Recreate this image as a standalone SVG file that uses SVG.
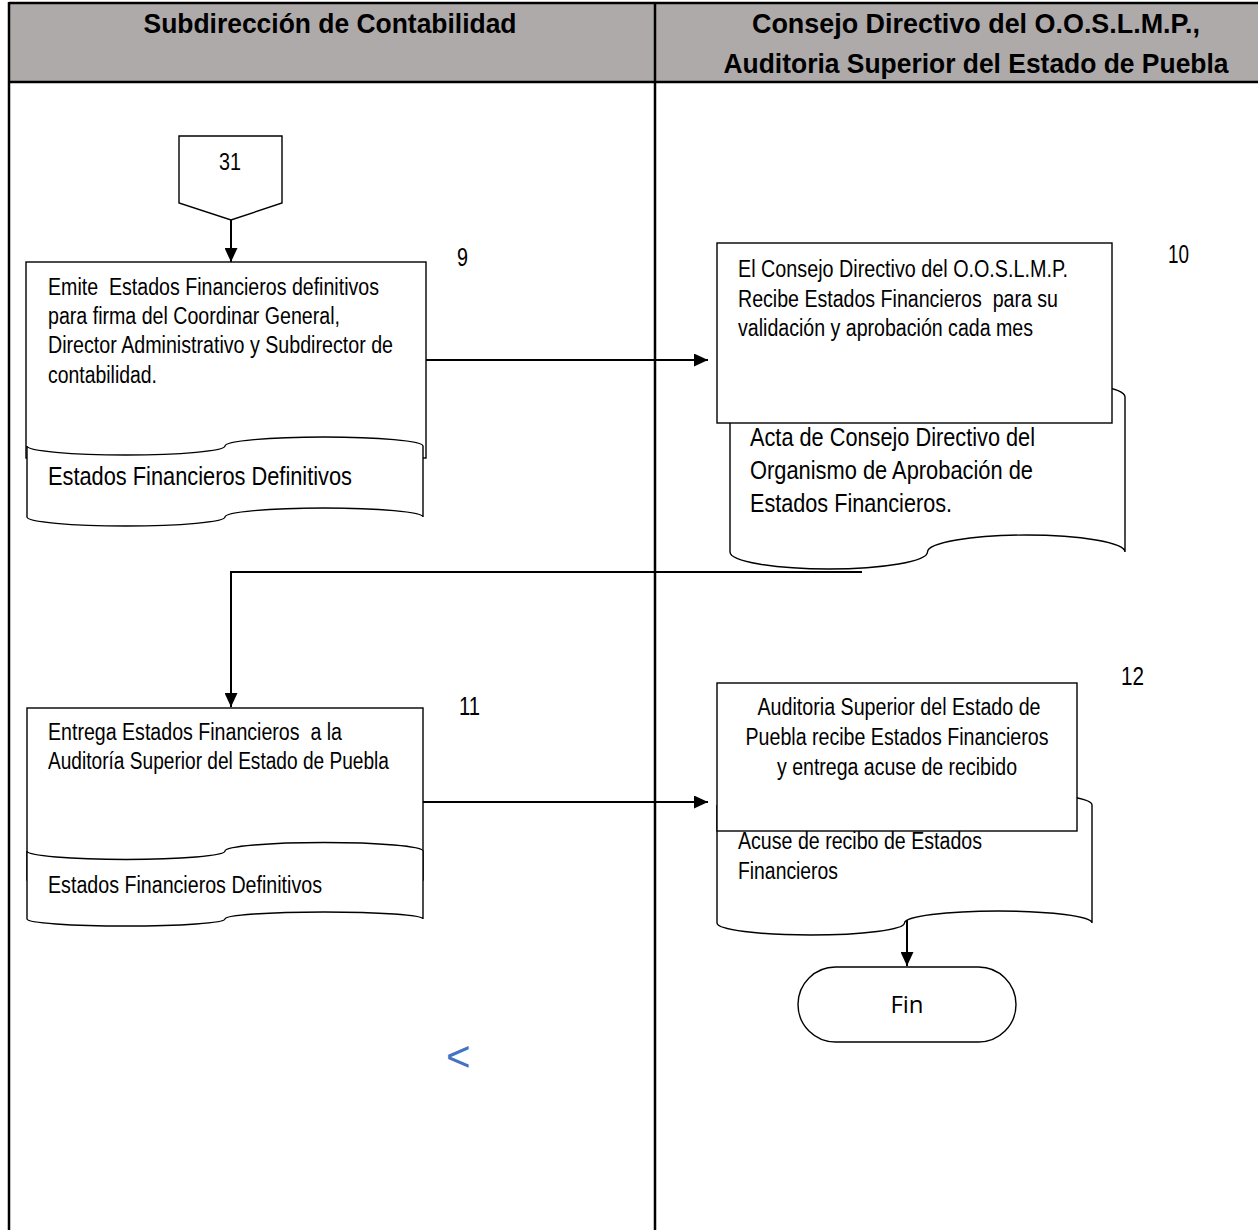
<svg xmlns="http://www.w3.org/2000/svg" width="1258" height="1230" viewBox="0 0 1258 1230">
<style>
.frame{stroke:#000;stroke-width:2.5;fill:none}
.shape{fill:#fff;stroke:#000;stroke-width:1.4}
.conn{stroke:#000;stroke-width:2;fill:none}
.t{font-family:"Liberation Sans Narrow","Liberation Sans",Arial,sans-serif;font-size:23px;fill:#000;white-space:pre}
.tl{font-size:25px}
.h{font-family:"Liberation Sans Narrow","Liberation Sans",Arial,sans-serif;font-weight:bold;font-size:28px;fill:#000}
.fin{font-family:"Open Sans","Noto Sans","Liberation Sans",sans-serif;font-size:24px;fill:#000}
</style>
<defs>
<marker id="arr" markerUnits="userSpaceOnUse" viewBox="0 0 14 13" refX="14" refY="6.5" markerWidth="14" markerHeight="13" orient="auto">
<path d="M0,0 L14,6.5 L0,13 Z" fill="#000"/>
</marker>
</defs>
<rect width="1258" height="1230" fill="#fff"/>
<g id="frame">
<rect x="9" y="3" width="1252" height="79" fill="#AEAAAA"/>
<line class="frame" x1="9" y1="3" x2="1258" y2="3"/>
<line class="frame" x1="9" y1="82" x2="1258" y2="82"/>
<line class="frame" x1="9" y1="2" x2="9" y2="1230"/>
<line class="frame" x1="655" y1="2" x2="655" y2="1230"/>
<text class="h" x="330" y="33" text-anchor="middle" textLength="373" lengthAdjust="spacingAndGlyphs">Subdirección de Contabilidad</text>
<text class="h" x="976" y="33" text-anchor="middle" textLength="448" lengthAdjust="spacingAndGlyphs">Consejo Directivo del O.O.S.L.M.P.,</text>
<text class="h" x="976" y="73" text-anchor="middle" textLength="505" lengthAdjust="spacingAndGlyphs">Auditoria Superior del Estado de Puebla</text>
</g>
<g id="connectors">
<line class="conn" x1="231" y1="220" x2="231" y2="262" marker-end="url(#arr)"/>
<line class="conn" x1="426" y1="360" x2="708" y2="360" marker-end="url(#arr)"/>
<polyline class="conn" points="862,572 231,572 231,707" marker-end="url(#arr)"/>
<line class="conn" x1="423" y1="802" x2="708" y2="802" marker-end="url(#arr)"/>
<line class="conn" x1="907" y1="920" x2="907" y2="966" marker-end="url(#arr)"/>
</g>
<g id="node31">
<polygon class="shape" points="179,136 282,136 282,203 231,220 179,203"/>
<text class="t" x="230" y="170" text-anchor="middle" textLength="22" lengthAdjust="spacingAndGlyphs">31</text>
</g>
<g id="node9">
<rect class="shape" x="26" y="262" width="400" height="196"/>
<text class="t" x="48" y="295" textLength="331" lengthAdjust="spacingAndGlyphs">Emite  Estados Financieros definitivos</text>
<text class="t" x="48" y="324" textLength="292" lengthAdjust="spacingAndGlyphs">para firma del Coordinar General,</text>
<text class="t" x="48" y="353" textLength="345" lengthAdjust="spacingAndGlyphs">Director Administrativo y Subdirector de</text>
<text class="t" x="48" y="383" textLength="109" lengthAdjust="spacingAndGlyphs">contabilidad.</text>
<path class="shape" d="M27,446 A99,9 0 0 0 225,446 A99,9 0 0 1 423,446 L423,517 A99,9 0 0 0 225,517 A99,9 0 0 1 27,517 Z"/>
<text class="t tl" x="48" y="485" textLength="304" lengthAdjust="spacingAndGlyphs">Estados Financieros Definitivos</text>
<text class="t tl" x="457" y="266" textLength="11" lengthAdjust="spacingAndGlyphs">9</text>
</g>
<g id="node10">
<path class="shape" d="M730,397 A98.75,17 0 0 0 927.5,397 A98.75,17 0 0 1 1125,397 L1125,552 A98.75,17 0 0 0 927.5,552 A98.75,17 0 0 1 730,552 Z"/>
<rect class="shape" x="717" y="243" width="395" height="180"/>
<text class="t" x="738" y="277" textLength="330" lengthAdjust="spacingAndGlyphs">El Consejo Directivo del O.O.S.L.M.P.</text>
<text class="t" x="738" y="307" textLength="320" lengthAdjust="spacingAndGlyphs">Recibe Estados Financieros  para su</text>
<text class="t" x="738" y="336" textLength="295" lengthAdjust="spacingAndGlyphs">validación y aprobación cada mes</text>
<text class="t tl" x="750" y="446" textLength="285" lengthAdjust="spacingAndGlyphs">Acta de Consejo Directivo del</text>
<text class="t tl" x="750" y="479" textLength="283" lengthAdjust="spacingAndGlyphs">Organismo de Aprobación de</text>
<text class="t tl" x="750" y="512" textLength="202" lengthAdjust="spacingAndGlyphs">Estados Financieros.</text>
<text class="t tl" x="1168" y="263" textLength="21" lengthAdjust="spacingAndGlyphs">10</text>
</g>
<g id="node11">
<rect class="shape" x="27" y="708" width="396" height="172"/>
<text class="t" x="48" y="740" textLength="294" lengthAdjust="spacingAndGlyphs">Entrega Estados Financieros  a la</text>
<text class="t" x="48" y="769" textLength="341" lengthAdjust="spacingAndGlyphs">Auditoría Superior del Estado de Puebla</text>
<path class="shape" d="M27,851 A99,8.5 0 0 0 225,851 A99,8.5 0 0 1 423,851 L423,919 A99,7 0 0 0 225,919 A99,7 0 0 1 27,919 Z"/>
<text class="t" x="48" y="893" textLength="274" lengthAdjust="spacingAndGlyphs">Estados Financieros Definitivos</text>
<text class="t tl" x="459" y="715" textLength="21" lengthAdjust="spacingAndGlyphs">11</text>
</g>
<g id="node12">
<path class="shape" d="M717,805 A93.75,13 0 0 0 904.5,805 A93.75,13 0 0 1 1092,805 L1092,923 A93.75,12 0 0 0 904.5,923 A93.75,12 0 0 1 717,923 Z"/>
<rect class="shape" x="717" y="683" width="360" height="148"/>
<text class="t" x="899" y="715" text-anchor="middle" textLength="283" lengthAdjust="spacingAndGlyphs">Auditoria Superior del Estado de</text>
<text class="t" x="897" y="745" text-anchor="middle" textLength="303" lengthAdjust="spacingAndGlyphs">Puebla recibe Estados Financieros</text>
<text class="t" x="897" y="775" text-anchor="middle" textLength="240" lengthAdjust="spacingAndGlyphs">y entrega acuse de recibido</text>
<text class="t" x="738" y="849" textLength="244" lengthAdjust="spacingAndGlyphs">Acuse de recibo de Estados</text>
<text class="t" x="738" y="879" textLength="100" lengthAdjust="spacingAndGlyphs">Financieros</text>
<text class="t tl" x="1121" y="685" textLength="23" lengthAdjust="spacingAndGlyphs">12</text>
</g>
<g id="fin">
<rect class="shape" x="798" y="967" width="218" height="75" rx="37.5" ry="37.5"/>
<text class="fin" x="907" y="1013" text-anchor="middle">Fin</text>
</g>
<text x="446" y="1071" font-family="Liberation Sans, Arial, sans-serif" font-size="42" fill="#4472C4">&lt;</text>
</svg>
